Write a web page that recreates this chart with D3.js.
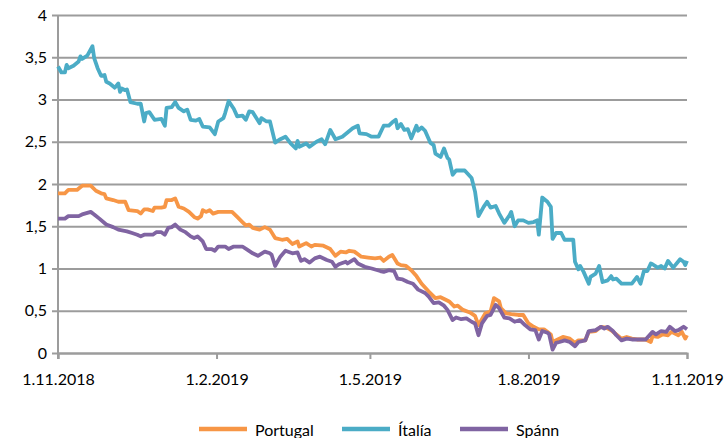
<!DOCTYPE html>
<html>
<head>
<meta charset="utf-8">
<script src="https://cdn.jsdelivr.net/npm/d3@7"></script>
<style>
body { margin: 0; background: #fff; }
text { font-family: Lato, "Open Sans", sans-serif; fill: #000; }
</style>
</head>
<body>
<div id="chart"></div>
<script>
// x ticks and y ticks
const tickLabels = ["1.11.2018", "1.2.2019", "1.5.2019", "1.8.2019", "1.11.2019"];
const yTicks = [0, 0.5, 1, 1.5, 2, 2.5, 3, 3.5, 4];
const seriesNames = ["Portugal", "Ítalía", "Spánn"];

// days counted from 1.11.2018
const portugalDays = [0,4,6,11,14,19,22,25,27,28,32,35,39,41,46,48,50,52,55,56,60,62,63,66,68,70,73,76,79,81,83,84,86,88,90,93,101,104,107,109,111,113,117,120,123,126,130,133,136,139,140,144,147,149,154,158,161,164,167,169,172,176,180,184,187,189,192,194,197,199,202,205,208,211,215,219,222,225,227,230,232,235,239,242,244,246,248,251,253,256,257,260,263,267,270,273,276,279,282,284,286,287,290,293,297,300,302,306,308,312,315,318,321,324,327,330,333,336,341,344,345,348,351,354,356,360,362,364,365];
const portugalValues = [1.89,1.89,1.93,1.93,1.98,1.98,1.92,1.89,1.88,1.83,1.81,1.79,1.79,1.69,1.68,1.65,1.70,1.70,1.68,1.72,1.72,1.73,1.81,1.81,1.83,1.73,1.71,1.67,1.61,1.59,1.62,1.69,1.67,1.69,1.65,1.67,1.67,1.61,1.55,1.51,1.52,1.48,1.46,1.49,1.46,1.36,1.34,1.35,1.29,1.32,1.26,1.30,1.26,1.28,1.27,1.23,1.15,1.20,1.19,1.21,1.20,1.14,1.13,1.12,1.13,1.09,1.14,1.16,1.06,1.04,1.03,0.98,0.91,0.82,0.73,0.65,0.66,0.63,0.61,0.55,0.56,0.51,0.48,0.44,0.33,0.40,0.47,0.49,0.65,0.61,0.53,0.47,0.46,0.45,0.45,0.35,0.31,0.28,0.28,0.25,0.22,0.13,0.16,0.19,0.17,0.12,0.15,0.15,0.25,0.26,0.31,0.30,0.27,0.22,0.17,0.19,0.17,0.16,0.16,0.13,0.20,0.19,0.22,0.21,0.25,0.21,0.25,0.17,0.21];

const italyDays = [0,2,4,5,6,9,12,13,14,17,20,21,22,23,25,27,28,30,33,35,36,37,39,40,42,46,48,50,51,53,56,60,62,63,66,68,70,73,75,77,80,82,84,88,91,93,96,97,99,102,104,107,109,111,113,117,118,121,123,126,129,132,135,138,139,140,144,146,150,153,155,158,161,165,168,171,174,175,179,182,186,189,192,194,196,197,199,201,203,205,208,209,211,213,216,218,219,222,224,226,227,229,231,236,240,242,244,247,249,251,254,256,259,262,263,265,267,270,273,276,278,279,281,284,286,287,289,292,294,299,300,302,303,305,308,309,312,314,316,319,321,322,324,327,330,333,336,338,340,342,344,345,348,350,352,354,357,361,363,364,365];
const italyValues = [3.39,3.32,3.32,3.41,3.37,3.40,3.45,3.51,3.48,3.52,3.63,3.49,3.43,3.37,3.28,3.29,3.21,3.19,3.14,3.19,3.09,3.13,3.11,3.12,2.97,2.95,2.95,2.74,2.84,2.85,2.76,2.77,2.69,2.90,2.91,2.97,2.90,2.86,2.88,2.76,2.75,2.77,2.68,2.67,2.59,2.74,2.78,2.84,2.98,2.89,2.80,2.81,2.76,2.86,2.85,2.72,2.78,2.74,2.74,2.49,2.53,2.56,2.48,2.42,2.51,2.44,2.48,2.44,2.50,2.53,2.47,2.64,2.53,2.56,2.61,2.66,2.69,2.60,2.59,2.56,2.56,2.69,2.69,2.73,2.76,2.66,2.71,2.64,2.65,2.54,2.69,2.63,2.67,2.63,2.49,2.46,2.36,2.32,2.42,2.31,2.29,2.11,2.16,2.16,2.07,1.91,1.62,1.73,1.79,1.72,1.74,1.65,1.54,1.63,1.67,1.50,1.57,1.57,1.54,1.55,1.57,1.40,1.84,1.79,1.73,1.35,1.42,1.42,1.34,1.34,1.08,0.99,1.03,0.96,0.82,0.90,0.94,1.03,0.84,0.86,0.91,0.87,0.88,0.82,0.82,0.82,0.90,0.82,0.97,0.97,1.06,1.05,1.01,1.03,1.00,1.09,1.01,1.11,1.08,1.04,1.09];

const spainDays = [0,4,6,12,14,19,21,24,28,32,35,40,43,46,48,50,55,57,60,62,64,66,68,71,74,77,79,81,84,86,89,91,93,97,99,102,107,110,113,116,120,123,124,126,129,132,136,139,141,143,146,149,152,156,159,161,163,167,168,172,174,178,182,187,189,192,195,197,200,203,206,209,213,215,218,221,224,226,229,231,234,237,240,242,244,246,249,251,254,256,259,262,265,268,271,274,277,279,281,284,285,287,289,291,294,297,300,302,306,308,312,315,317,319,322,324,327,330,333,337,341,345,347,350,353,355,358,360,363,365];
const spainValues = [1.59,1.59,1.62,1.62,1.64,1.67,1.64,1.59,1.52,1.49,1.46,1.44,1.42,1.40,1.38,1.40,1.40,1.43,1.43,1.40,1.48,1.49,1.52,1.46,1.43,1.38,1.36,1.38,1.32,1.23,1.23,1.21,1.26,1.26,1.23,1.26,1.26,1.22,1.18,1.15,1.20,1.18,1.16,1.03,1.14,1.21,1.18,1.19,1.09,1.11,1.07,1.12,1.14,1.10,1.08,1.02,1.05,1.08,1.06,1.11,1.06,1.02,1.00,0.97,0.96,0.98,0.97,0.88,0.87,0.84,0.82,0.75,0.71,0.67,0.59,0.60,0.56,0.51,0.39,0.42,0.40,0.41,0.37,0.35,0.21,0.35,0.44,0.45,0.57,0.53,0.42,0.41,0.37,0.39,0.33,0.28,0.27,0.16,0.26,0.24,0.22,0.04,0.12,0.13,0.15,0.13,0.08,0.13,0.15,0.26,0.27,0.31,0.29,0.31,0.26,0.21,0.15,0.17,0.16,0.16,0.16,0.25,0.22,0.26,0.25,0.31,0.26,0.27,0.31,0.28];

const colours = ["#F79646", "#4BACC6", "#8064A2"];

const margins = { top: 15, right: 41, bottom: 85, left: 58 };
const chartWidth = 728 - margins.left - margins.right;
const chartHeight = 438 - margins.top - margins.bottom;

const svg = d3.select("#chart")
    .append("svg")
    .attr("width", 728)
    .attr("height", 438)
    .append("g")
    .attr("transform", "translate(" + margins.left + "," + margins.top + ")");

const parseDate = d3.timeParse("%d.%m.%Y");
const startDate = parseDate(tickLabels[0]);
const tickDates = tickLabels.map(parseDate);

const x = d3.scaleTime()
    .domain([startDate, tickDates[tickDates.length - 1]])
    .range([0, chartWidth]);
const y = d3.scaleLinear().domain([0, 4]).range([chartHeight, 0]);

// gridlines + y axis
const yAxis = svg.append("g")
    .call(d3.axisLeft(y).tickValues(yTicks).tickSize(-chartWidth).tickPadding(11)
        .tickFormat(d => String(d).replace(".", ",")));
yAxis.select(".domain").remove();
yAxis.selectAll("line").attr("stroke", "#9c9c9c").attr("stroke-width", 2).attr("x1", -6);
yAxis.selectAll("text").style("font-size", "16px");

// x axis
const xAxis = svg.append("g")
    .attr("transform", "translate(0," + chartHeight + ")")
    .call(d3.axisBottom(x).tickValues(tickDates).tickSize(6).tickPadding(15)
        .tickFormat((d, i) => tickLabels[i]));
xAxis.select(".domain").attr("stroke", "#9c9c9c").attr("stroke-width", 2);
xAxis.selectAll("line").attr("stroke", "#9c9c9c").attr("stroke-width", 2);
xAxis.selectAll("text").style("font-size", "16px");

// vertical axis line
svg.append("line")
    .attr("x1", 0).attr("x2", 0)
    .attr("y1", 0).attr("y2", chartHeight + 6)
    .attr("stroke", "#9c9c9c")
    .attr("stroke-width", 2);

const series = [
    { name: seriesNames[0], days: portugalDays, values: portugalValues },
    { name: seriesNames[1], days: italyDays, values: italyValues },
    { name: seriesNames[2], days: spainDays, values: spainValues }
];

const line = d3.line()
    .x(d => x(d.date))
    .y(d => y(d.value));

series.forEach((s, i) => {
    const pts = s.days.map((day, j) => ({ date: d3.timeDay.offset(startDate, day), value: s.values[j] }));
    svg.append("path")
        .datum(pts)
        .attr("fill", "none")
        .attr("stroke", colours[i])
        .attr("stroke-width", 3.8)
        .attr("stroke-linejoin", "round")
        .attr("d", line);
});

//legend along the bottom
const legendX = [141, 284, 402];
const legend = svg.append("g")
    .attr("transform", "translate(0," + (chartHeight + 76) + ")");
const items = legend.selectAll("g")
    .data(seriesNames)
    .enter()
    .append("g")
    .attr("transform", (d, i) => "translate(" + legendX[i] + ",0)");
items.append("line")
    .attr("x1", 0).attr("x2", 48)
    .attr("stroke", (d, i) => colours[i])
    .attr("stroke-width", 4.5);
items.append("text")
    .attr("x", 56)
    .attr("y", 7)
    .style("font-size", "16px")
    .text(d => d);
</script>
</body>
</html>
